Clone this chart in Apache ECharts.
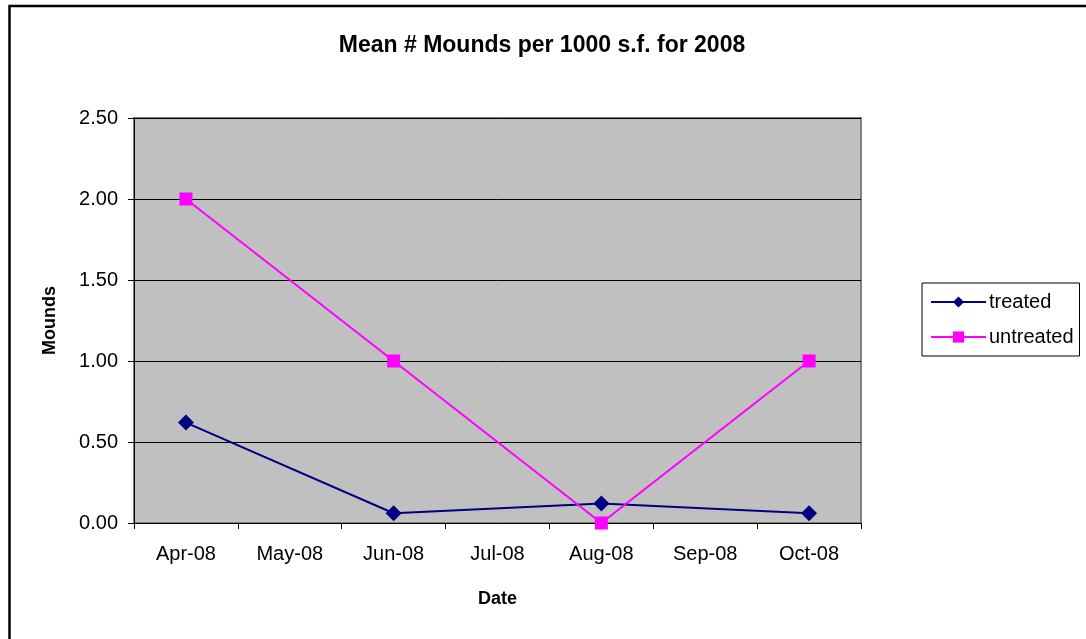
<!DOCTYPE html>
<html>
<head>
<meta charset="utf-8">
<script src="https://cdn.jsdelivr.net/npm/echarts@6/dist/echarts.min.js"></script>
<style>html,body{margin:0;padding:0;background:#fff}#c{width:1086px;height:639px}</style>
</head>
<body>
<div id="c"></div>
<script>
const categories = ['Apr-08','May-08','Jun-08','Jul-08','Aug-08','Sep-08','Oct-08'];
const treated = [0.62, null, 0.06, null, 0.12, null, 0.06];
const untreated = [2.00, null, 1.00, null, 0.00, null, 1.00];
const titleText = 'Mean # Mounds per 1000 s.f. for 2008';

const chart = echarts.init(document.getElementById('c'), null, {renderer: 'canvas'});
const font = 'Arial, "Liberation Sans", sans-serif';
chart.setOption({
  animation: false,
  backgroundColor: '#ffffff',
  textStyle: {fontFamily: font},
  title: {
    text: titleText,
    left: 537, top: 29, textAlign: 'center',
    textStyle: {fontSize: 23, fontWeight: 'bold', color: '#000', fontFamily: font}
  },
  graphic: [{
    type: 'rect', silent: true, z: 100,
    shape: {x: 9.5, y: 6, width: 1200, height: 800},
    style: {fill: 'none', stroke: '#000', lineWidth: 2.5}
  }],
  grid: {
    left: 134, right: 225, top: 118, bottom: 116,
    show: true, backgroundColor: '#c0c0c0', borderColor: '#808080', borderWidth: 2
  },
  legend: {
    orient: 'vertical',
    left: 922, top: 283,
    padding: [9, 6, 9, 8],
    itemWidth: 55, itemHeight: 14, itemGap: 15,
    borderColor: '#000', borderWidth: 1, backgroundColor: '#fff',
    textStyle: {fontSize: 20, color: '#000', fontFamily: font, padding: [0,0,0,-2]},
    data: ['treated', 'untreated']
  },
  xAxis: {
    type: 'category', data: categories, boundaryGap: true,
    name: 'Date', nameLocation: 'middle', nameGap: 67,
    nameTextStyle: {fontSize: 18, fontWeight: 'bold', color: '#000', fontFamily: font},
    axisLine: {show: true, lineStyle: {color: '#000', width: 1}},
    axisTick: {show: true, length: 6, alignWithLabel: false, lineStyle: {color: '#000'}},
    axisLabel: {fontSize: 20, color: '#000', margin: 21, fontFamily: font, interval: 0},
    splitLine: {show: false}
  },
  yAxis: {
    type: 'value', min: 0, max: 2.5, interval: 0.5,
    name: 'Mounds', nameLocation: 'middle', nameGap: 75, nameRotate: 90,
    nameTextStyle: {fontSize: 18, fontWeight: 'bold', color: '#000', fontFamily: font},
    axisLine: {show: true, lineStyle: {color: '#000', width: 1}},
    axisTick: {show: true, length: 6, lineStyle: {color: '#000'}},
    axisLabel: {fontSize: 20, color: '#000', margin: 16, fontFamily: font,
      formatter: v => v.toFixed(2)},
    splitLine: {show: true, lineStyle: {color: '#000', width: 1}}
  },
  series: [
    {
      name: 'treated', type: 'line', data: treated, connectNulls: true,
      symbol: 'diamond', symbolSize: 16,
      lineStyle: {color: '#000080', width: 2},
      itemStyle: {color: '#000080'}
    },
    {
      name: 'untreated', type: 'line', data: untreated, connectNulls: true,
      symbol: 'rect', symbolSize: 13,
      lineStyle: {color: '#ff00ff', width: 2},
      itemStyle: {color: '#ff00ff'}
    }
  ]
});
</script>
</body>
</html>
